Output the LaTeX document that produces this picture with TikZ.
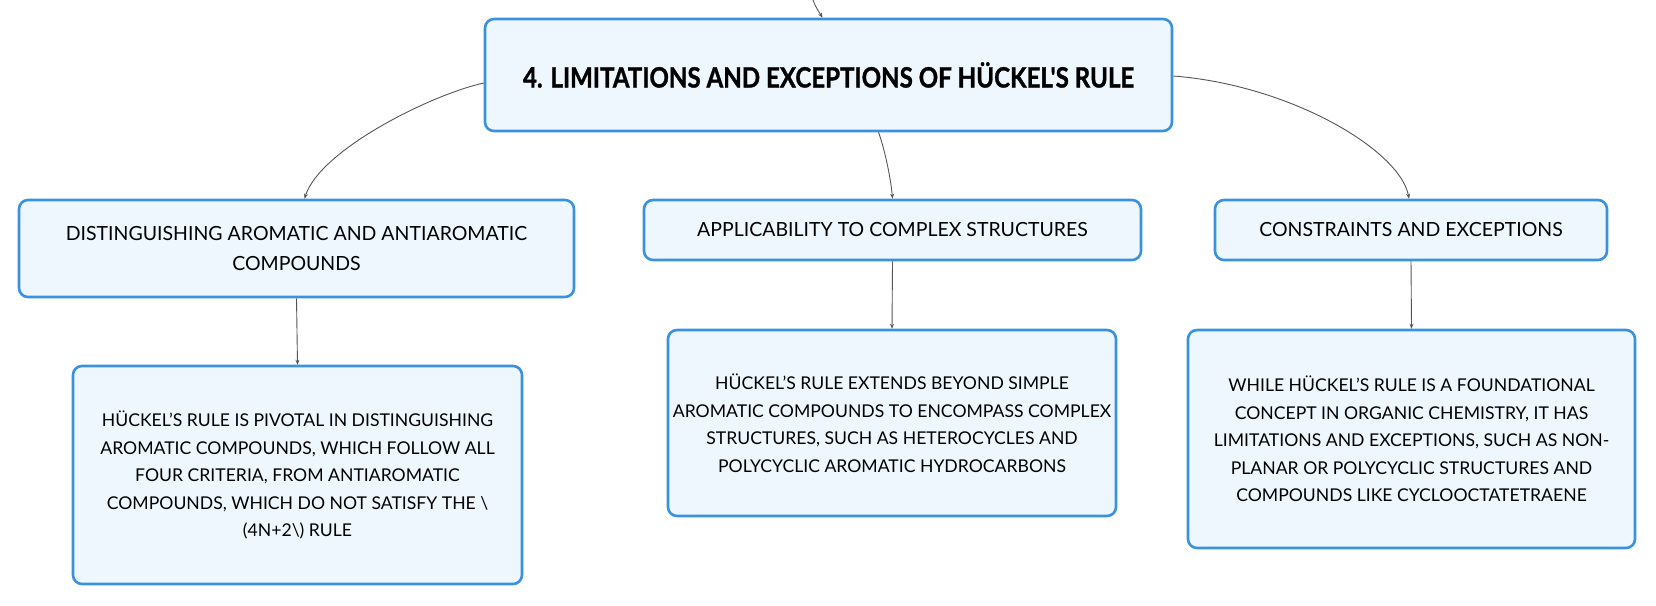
\documentclass[tikz,border=0pt]{standalone}
\usepackage{fontspec}
\setmainfont{Lato}
\newfontfamily\titlefont{Lato}[BoldFeatures={FakeBold=1.2}]
\usetikzlibrary{arrows.meta}
\definecolor{boxblue}{HTML}{3A92DE}
\definecolor{boxfill}{HTML}{EFF7FE}
\definecolor{linkgrey}{HTML}{555555}
\begin{document}
\begin{tikzpicture}[x=1pt,y=-1pt,
  box/.style={draw=boxblue, line width=2.6pt, fill=boxfill, rounded corners=9pt,
    inner sep=0pt, align=center, text=black},
  childbox/.style={box, font=\fontsize{19.5}{30.5}\selectfont},
  leafbox/.style={box, font=\fontsize{17.6}{27.5}\selectfont},
  link/.style={draw=linkgrey, line width=0.9pt, -{Stealth[length=5pt,width=4pt]}}]
\useasboundingbox (0,0) rectangle (1656,605);
\node[box, minimum width=687pt, minimum height=112pt] (main) at (828.5,75)
  {\scalebox{0.86}[1]{\fontsize{28}{32}\titlefont\bfseries 4. LIMITATIONS AND EXCEPTIONS OF HÜCKEL'S RULE}};
\node[childbox, minimum width=555pt, minimum height=97pt] (lc) at (296.5,248.5)
  {DISTINGUISHING AROMATIC AND ANTIAROMATIC\\COMPOUNDS};
\node[childbox, minimum width=497pt, minimum height=60pt] (mc) at (892.5,230)
  {APPLICABILITY TO COMPLEX STRUCTURES};
\node[childbox, minimum width=392pt, minimum height=60pt] (rc) at (1411,230)
  {CONSTRAINTS AND EXCEPTIONS};
\node[leafbox, minimum width=449pt, minimum height=218pt] (ll) at (297.5,475)
  {HÜCKEL'S RULE IS PIVOTAL IN DISTINGUISHING\\AROMATIC COMPOUNDS, WHICH FOLLOW ALL\\FOUR CRITERIA, FROM ANTIAROMATIC\\COMPOUNDS, WHICH DO NOT SATISFY THE \textbackslash\\(4N+2\textbackslash) RULE};
\node[leafbox, minimum width=448pt, minimum height=186pt] (ml) at (892,423)
  {HÜCKEL'S RULE EXTENDS BEYOND SIMPLE\\AROMATIC COMPOUNDS TO ENCOMPASS COMPLEX\\STRUCTURES, SUCH AS HETEROCYCLES AND\\POLYCYCLIC AROMATIC HYDROCARBONS};
\node[leafbox, minimum width=447pt, minimum height=218pt] (rl) at (1411.5,439)
  {WHILE HÜCKEL'S RULE IS A FOUNDATIONAL\\CONCEPT IN ORGANIC CHEMISTRY, IT HAS\\LIMITATIONS AND EXCEPTIONS, SUCH AS NON-\\PLANAR OR POLYCYCLIC STRUCTURES AND\\COMPOUNDS LIKE CYCLOOCTATETRAENE};
\coordinate (topin) at (813,0);
\draw[link] (topin) .. controls (816,8) and (819,12) .. ([xshift=-6pt]main.north);
\draw[link] ([yshift=-8pt]main.west) .. controls (430,95) and (320,150) .. ([xshift=8pt]lc.north);
\draw[link] ([xshift=50pt]main.south) .. controls (885,150) and (891,180) .. (mc.north);
\draw[link] ([yshift=-1pt]main.east) .. controls (1290,85) and (1400,150) .. ([xshift=-2pt]rc.north);
\draw[link] (lc.south) -- (ll.north);
\draw[link] (mc.south) -- (ml.north);
\draw[link] (rc.south) -- (rl.north);
\end{tikzpicture}
\end{document}
